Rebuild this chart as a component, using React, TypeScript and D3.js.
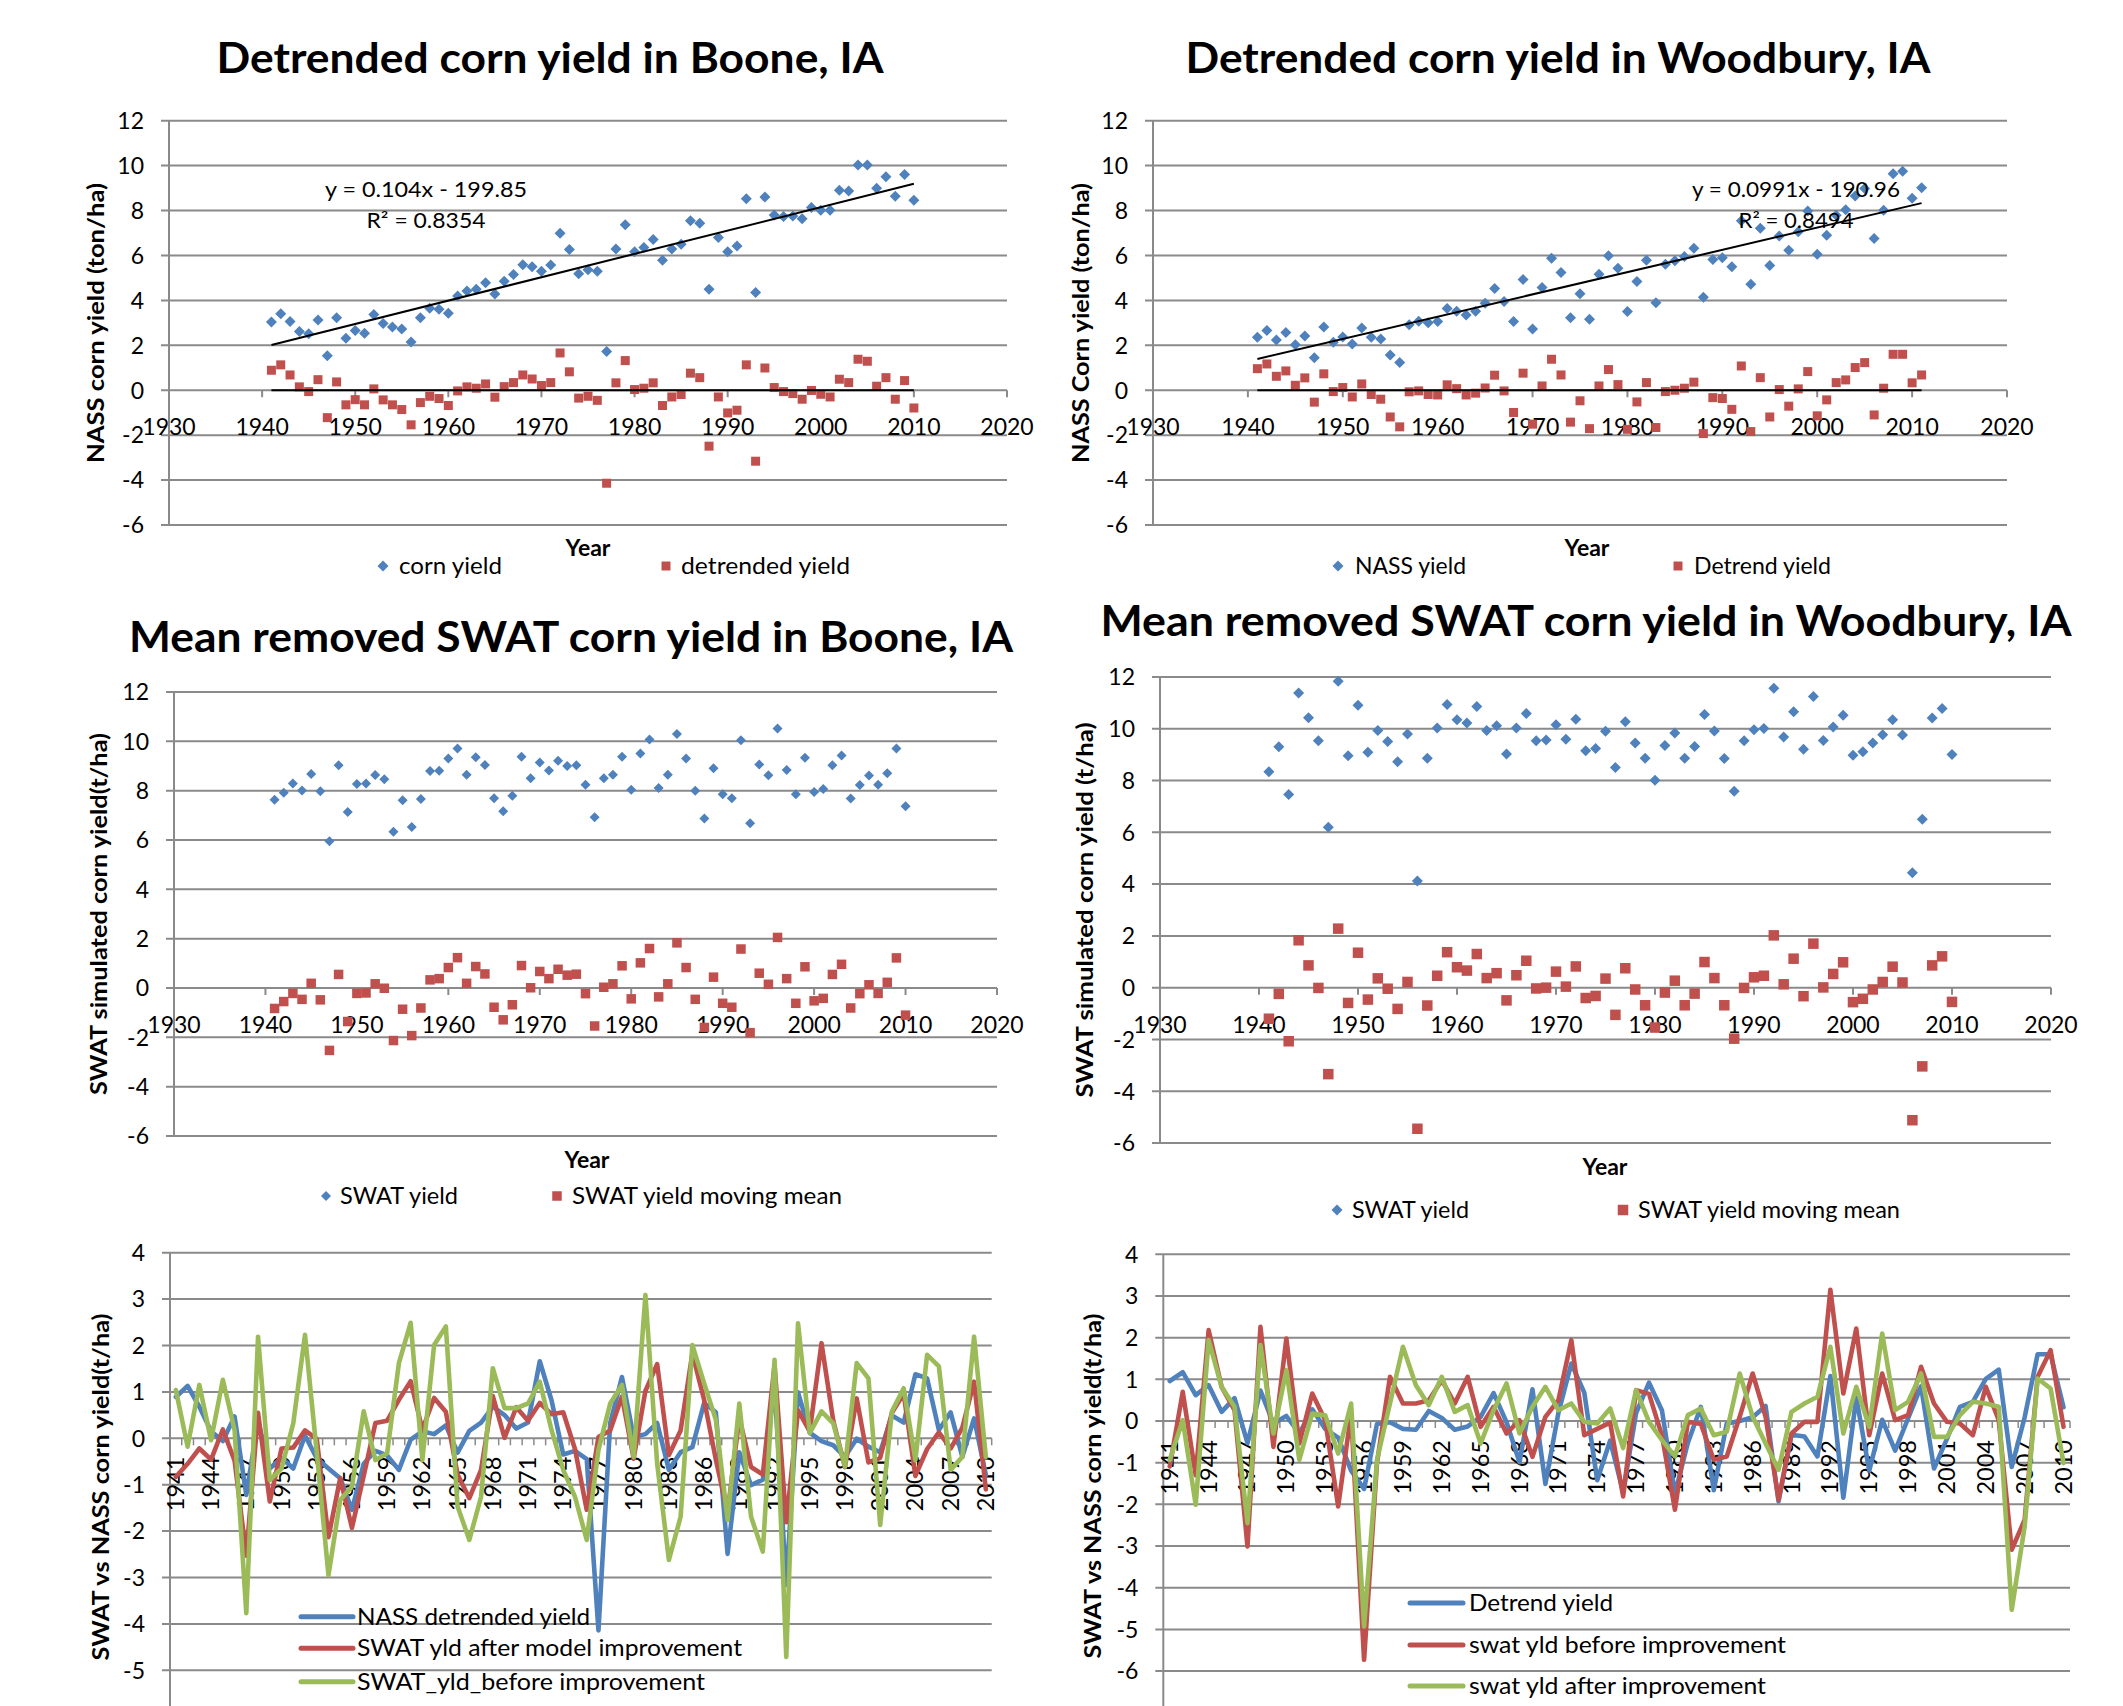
import React from 'react';
import * as d3 from 'd3';

const FONT = 'Lato, "Open Sans", "DejaVu Sans", sans-serif';
const BLUE = '#4F81BD';
const RED = '#C0504D';
const GREEN = '#9BBB59';
const GRID = '#8a8a8a';

// ---- categories ----
const yearsTo2010 = d3.range(1941, 2011);
const yearsTo2011 = d3.range(1941, 2012);
const decadeTicks = d3.range(1930, 2021, 10);
const scatterValueTicks = d3.range(-6, 13, 2);

// ---- Boone NASS (t/ha), 1941-2010 ----
const booneNassYield = [
  3.04, 3.41, 3.06, 2.61, 2.52, 3.13, 1.53, 3.23, 2.31, 2.66,
  2.54, 3.37, 2.97, 2.82, 2.73, 2.15, 3.23, 3.65, 3.61, 3.43,
  4.2, 4.42, 4.5, 4.79, 4.29, 4.85, 5.15, 5.59, 5.5, 5.3,
  5.58, 6.99, 6.27, 5.19, 5.36, 5.3, 1.72, 6.29, 7.37, 6.17,
  6.35, 6.71, 5.79, 6.29, 6.5, 7.55, 7.43, 4.5, 6.8, 6.17,
  6.42, 8.53, 4.35, 8.6, 7.8, 7.73, 7.76, 7.63, 8.13, 8.01,
  8.01, 8.9, 8.87, 10.03, 10.03, 8.99, 9.5, 8.64, 9.6, 8.46,
];
const booneDetrended = [
  0.89, 1.13, 0.68, 0.15, -0.06, 0.47, -1.22, 0.37, -0.65, -0.42,
  -0.65, 0.06, -0.43, -0.65, -0.86, -1.54, -0.55, -0.27, -0.37, -0.68,
  -0.03, 0.15, 0.09, 0.28, -0.31, 0.16, 0.34, 0.68, 0.5, 0.21,
  0.34, 1.66, 0.82, -0.35, -0.27, -0.45, -4.14, 0.33, 1.32, 0.03,
  0.09, 0.33, -0.68, -0.3, -0.19, 0.76, 0.56, -2.49, -0.3, -1.01,
  -0.89, 1.13, -3.16, 0.99, 0.12, -0.06, -0.15, -0.4, -0.01, -0.18,
  -0.3, 0.49, 0.34, 1.38, 1.29, 0.18, 0.56, -0.4, 0.43, -0.79,
];
const booneTrend = { slope: 0.104, intercept: -199.85, r2: '0.8354' };

// ---- Woodbury NASS (t/ha), 1941-2011 ----
const woodburyNassYield = [
  2.36, 2.66, 2.24, 2.57, 2.03, 2.42, 1.45, 2.82, 2.14, 2.37,
  2.06, 2.77, 2.36, 2.28, 1.57, 1.23, 2.91, 3.07, 3.01, 3.06,
  3.64, 3.52, 3.35, 3.52, 3.87, 4.53, 3.95, 3.06, 4.93, 2.73,
  4.57, 5.88, 5.24, 3.23, 4.3, 3.16, 5.16, 5.99, 5.43, 3.5,
  4.84, 5.79, 3.89, 5.61, 5.76, 5.95, 6.32, 4.14, 5.82, 5.9,
  5.5, 7.55, 4.72, 7.21, 5.55, 6.87, 6.23, 7.06, 7.98, 6.05,
  6.9, 7.79, 8.04, 8.65, 8.98, 6.75, 8.01, 9.64, 9.75, 8.55, 9.02,
];
const woodburyDetrend = [
  0.96, 1.17, 0.62, 0.86, 0.22, 0.55, -0.53, 0.73, -0.06, 0.12,
  -0.3, 0.28, -0.19, -0.4, -1.19, -1.63, -0.07, -0.03, -0.19, -0.21,
  0.24, 0.07, -0.21, -0.13, 0.1, 0.67, -0.03, -0.99, 0.76, -1.51,
  0.19, 1.38, 0.68, -1.42, -0.47, -1.71, 0.19, 0.92, 0.25, -1.74,
  -0.52, 0.34, -1.66, -0.06, 0.0, 0.09, 0.36, -1.93, -0.33, -0.37,
  -0.85, 1.08, -1.84, 0.56, -1.19, 0.03, -0.71, 0.06, 0.83, -1.14,
  -0.43, 0.34, 0.46, 1.01, 1.23, -1.1, 0.09, 1.6, 1.6, 0.33, 0.68,
];
const woodburyTrend = { slope: 0.0991, intercept: -190.96, r2: '0.8494' };

// ---- SWAT simulated (t/ha), 1941-2010 ----
const booneSwatYield = [
  7.63, 7.92, 8.29, 8.01, 8.68, 7.98, 5.95, 9.03, 7.14, 8.27,
  8.29, 8.64, 8.46, 6.33, 7.61, 6.53, 7.66, 8.8, 8.81, 9.3,
  9.71, 8.65, 9.35, 9.04, 7.69, 7.17, 7.79, 9.38, 8.5, 9.14,
  8.82, 9.21, 9.0, 9.03, 8.24, 6.92, 8.5, 8.65, 9.38, 8.04,
  9.51, 10.07, 8.11, 8.65, 10.3, 9.3, 8.0, 6.87, 8.91, 7.85,
  7.69, 10.04, 6.68, 9.06, 8.62, 10.52, 8.84, 7.85, 9.33, 7.95,
  8.07, 9.03, 9.43, 7.68, 8.23, 8.61, 8.24, 8.71, 9.71, 7.37,
];
const booneSwatMovingMean = [
  -0.83, -0.55, -0.22, -0.46, 0.19, -0.48, -2.53, 0.55, -1.36, -0.22,
  -0.2, 0.17, -0.01, -2.13, -0.86, -1.93, -0.81, 0.33, 0.38, 0.83,
  1.23, 0.19, 0.87, 0.57, -0.78, -1.29, -0.68, 0.91, 0.01, 0.67,
  0.38, 0.76, 0.52, 0.56, -0.23, -1.54, 0.03, 0.17, 0.9, -0.44,
  1.02, 1.6, -0.36, 0.17, 1.83, 0.83, -0.46, -1.6, 0.44, -0.62,
  -0.78, 1.58, -1.81, 0.6, 0.15, 2.05, 0.38, -0.62, 0.86, -0.52,
  -0.42, 0.55, 0.96, -0.81, -0.23, 0.13, -0.22, 0.23, 1.22, -1.1,
];
const booneSwatBefore = [
  1.04, -0.18, 1.15, -0.04, 1.26, 0.18, -3.77, 2.19, -0.9, -0.65,
  0.32, 2.23, -0.3, -2.95, -1.33, -1.04, 0.58, -0.47, -0.32, 1.62,
  2.49, -0.47, 2.01, 2.41, -1.47, -2.19, -1.26, 1.51, 0.65, 0.65,
  0.75, 1.22, 0.18, -0.68, -1.26, -2.19, -0.25, 0.75, 1.15, -0.4,
  3.09, -0.54, -2.62, -1.69, 2.01, 1.19, 0.4, -1.76, 0.75, -1.69,
  -2.44, 1.69, -4.71, 2.48, 0.11, 0.58, 0.32, -0.61, 1.62, 1.29,
  -1.87, 0.58, 1.08, -0.47, 1.8, 1.55, -0.68, -0.4, 2.19, -0.4,
];

const woodburySwatYield = [
  8.34, 9.31, 7.46, 11.38, 10.43, 9.54, 6.2, 11.84, 8.96, 10.91,
  9.09, 9.93, 9.51, 8.73, 9.8, 4.12, 8.86, 10.03, 10.94, 10.35,
  10.22, 10.86, 9.93, 10.12, 9.03, 10.03, 10.59, 9.54, 9.57, 10.16,
  9.6, 10.37, 9.15, 9.24, 9.9, 8.5, 10.27, 9.45, 8.86, 8.01,
  9.35, 9.84, 8.86, 9.32, 10.55, 9.91, 8.85, 7.59, 9.54, 9.96,
  10.01, 11.57, 9.68, 10.66, 9.21, 11.25, 9.55, 10.07, 10.52, 8.98,
  9.11, 9.45, 9.77, 10.35, 9.76, 4.44, 6.51, 10.42, 10.78, 9.01,
];
const woodburySwatMovingMean = [
  -1.2, -0.24, -2.07, 1.83, 0.86, -0.01, -3.34, 2.28, -0.59, 1.35,
  -0.46, 0.36, -0.04, -0.82, 0.22, -5.45, -0.69, 0.46, 1.37, 0.79,
  0.66, 1.3, 0.37, 0.56, -0.49, 0.48, 1.04, -0.03, 0.0, 0.62,
  0.04, 0.82, -0.4, -0.32, 0.35, -1.05, 0.75, -0.07, -0.68, -1.54,
  -0.19, 0.27, -0.68, -0.23, 0.99, 0.37, -0.68, -1.97, -0.01, 0.4,
  0.46, 2.02, 0.13, 1.12, -0.33, 1.7, 0.01, 0.53, 0.98, -0.56,
  -0.43, -0.07, 0.22, 0.81, 0.2, -5.12, -3.04, 0.86, 1.21, -0.55,
];
const woodburySwatBefore = [
  -1.09, 0.7, -1.3, 2.18, 0.82, 0.26, -3.01, 2.26, -0.62, 1.98,
  -0.54, 0.66, 0.02, -2.05, 0.18, -5.73, -1.0, 1.06, 0.42, 0.42,
  0.5, 0.98, 0.42, 1.06, -0.14, 0.34, -0.3, 0.02, -0.86, 0.1,
  0.5, 1.94, -0.34, -0.19, -0.04, -1.81, 0.74, 0.65, -0.35, -2.13,
  -0.02, -0.07, -0.93, -0.85, 0.1, 1.14, 0.1, -1.89, -0.3, -0.02,
  -0.02, 3.15, 0.66, 2.22, -0.34, 1.14, 0.02, 0.14, 1.3, 0.42,
  -0.02, -0.06, -0.34, 0.82, 0.02, -3.09, -2.37, 1.06, 1.7, -0.14,
];
const woodburySwatAfter = [
  -0.93, 0.02, -2.01, 1.94, 0.82, 0.34, -2.45, 1.82, -0.3, 1.22,
  -0.93, 0.18, 0.14, -0.78, 0.42, -4.93, -0.93, 0.42, 1.78, 0.86,
  0.38, 1.06, 0.22, 0.38, -0.54, 0.26, 0.9, -0.3, 0.34, 0.82,
  0.26, 0.42, -0.02, -0.06, 0.3, -0.65, 0.74, -0.02, -0.46, -0.85,
  0.14, 0.3, -0.34, -0.26, 1.14, 0.1, -0.54, -1.17, 0.22, 0.42,
  0.58, 1.78, -0.3, 0.82, -0.14, 2.1, 0.26, 0.46, 1.14, -0.38,
  -0.38, 0.14, 0.46, 0.42, 0.34, -4.53, -2.53, 1.02, 0.78, -1.01,
];

const diamondPath = (r: number) => `M0,${-r}L${r},0L0,${r}L${-r},0Z`;
const fmtTrend = (t: { slope: number; intercept: number }) =>
  `y = ${t.slope}x - ${Math.abs(t.intercept).toFixed(2)}`;

type Legend = { marker: 'diamond' | 'square'; mx: number; tx: number; len: number; text: string };

type ScatterCfg = {
  x0: number; x1: number; yTop: number; yBottom: number;
  title: { text: string; cx: number; y: number; len: number };
  yTitle: { text: string; x: number; cy: number; len: number };
  xLabelY: number;
  blueYears: number[]; blue: number[]; diamondR: number;
  redYears: number[]; red: number[]; square: number;
  trend?: { slope: number; intercept: number; r2: string; from: number; to: number; cx: number; y1: number; y2: number; len1: number; len2: number };
  yearLabel: { x: number; y: number };
  legendY: number;
  legend: Legend[];
};

function ScatterPanel({ cfg }: { cfg: ScatterCfg }) {
  const x = d3.scaleLinear().domain([1930, 2020]).range([cfg.x0, cfg.x1]);
  const y = d3.scaleLinear().domain([-6, 12]).range([cfg.yBottom, cfg.yTop]);
  const y0 = y(0);
  const t = cfg.trend;
  return (
    <g>
      <text x={cfg.title.cx} y={cfg.title.y} textAnchor="middle" fontWeight="bold" fontSize={42}
        textLength={cfg.title.len} lengthAdjust="spacingAndGlyphs">{cfg.title.text}</text>
      {scatterValueTicks.map((v) => (
        <g key={v}>
          <line x1={cfg.x0 - 8} x2={cfg.x1} y1={y(v)} y2={y(v)} stroke={GRID} strokeWidth={2} />
          <text x={cfg.x0 - 25} y={y(v)} dy="0.36em" textAnchor="end" fontSize={23}>{v}</text>
        </g>
      ))}
      <line x1={cfg.x0} x2={cfg.x0} y1={cfg.yTop} y2={cfg.yBottom} stroke={GRID} strokeWidth={2} />
      {decadeTicks.map((d) => (
        <g key={d}>
          <line x1={x(d)} x2={x(d)} y1={y0} y2={y0 + 7} stroke={GRID} strokeWidth={2} />
          <text x={x(d)} y={cfg.xLabelY} textAnchor="middle" fontSize={23}>{d}</text>
        </g>
      ))}
      <text transform={`translate(${cfg.yTitle.x},${cfg.yTitle.cy}) rotate(-90)`} dy="0.36em"
        textAnchor="middle" fontWeight="bold" fontSize={23}
        textLength={cfg.yTitle.len} lengthAdjust="spacingAndGlyphs">{cfg.yTitle.text}</text>
      {cfg.blueYears.map((yr, i) => (
        <path key={'b' + yr} d={diamondPath(cfg.diamondR)} transform={`translate(${x(yr)},${y(cfg.blue[i])})`} fill={BLUE} />
      ))}
      {cfg.redYears.map((yr, i) => (
        <rect key={'r' + yr} x={x(yr) - cfg.square / 2} y={y(cfg.red[i]) - cfg.square / 2}
          width={cfg.square} height={cfg.square} fill={RED} />
      ))}
      {t && (
        <g>
          <line x1={x(t.from)} x2={x(t.to)} y1={y(t.slope * t.from + t.intercept)} y2={y(t.slope * t.to + t.intercept)}
            stroke="#000" strokeWidth={2} />
          <line x1={x(t.from)} x2={x(t.to)} y1={y0} y2={y0} stroke="#000" strokeWidth={2} />
          <text x={t.cx} y={t.y1} textAnchor="middle" fontSize={21} textLength={t.len1} lengthAdjust="spacingAndGlyphs">{fmtTrend(t)}</text>
          <text x={t.cx} y={t.y2} textAnchor="middle" fontSize={21} textLength={t.len2} lengthAdjust="spacingAndGlyphs">{`R\u00B2 = ${t.r2}`}</text>
        </g>
      )}
      <text x={cfg.yearLabel.x} y={cfg.yearLabel.y} textAnchor="middle" fontWeight="bold" fontSize={23}>Year</text>
      {cfg.legend.map((l) => (
        <g key={l.text}>
          {l.marker === 'diamond' ? (
            <path d={diamondPath(cfg.diamondR)} transform={`translate(${l.mx},${cfg.legendY})`} fill={BLUE} />
          ) : (
            <rect x={l.mx - cfg.square / 2} y={cfg.legendY - cfg.square / 2} width={cfg.square} height={cfg.square} fill={RED} />
          )}
          <text x={l.tx} y={cfg.legendY + 8} fontSize={23.5} textLength={l.len} lengthAdjust="spacingAndGlyphs">{l.text}</text>
        </g>
      ))}
    </g>
  );
}

type LineCfg = {
  x0: number; x1: number; zeroY: number; fourY: number; minTick: number; labelTop: number;
  yTitle: { x: number; cy: number; len: number };
  series: { values: number[]; color: string; name: string; len: number }[];
  legend: { lx0: number; lx1: number; tx: number; rows: number[] };
};

function LinePanel({ cfg }: { cfg: LineCfg }) {
  const x = d3.scaleBand<number>().domain(yearsTo2010).range([cfg.x0, cfg.x1]);
  const cx = (yr: number) => (x(yr) as number) + x.bandwidth() / 2;
  const y = d3.scaleLinear().domain([0, 4]).range([cfg.zeroY, cfg.fourY]);
  const ticks = d3.range(cfg.minTick, 5);
  const line = d3.line<number>().x((_, i) => cx(yearsTo2010[i])).y((v) => y(v));
  return (
    <g>
      {ticks.map((v) => (
        <g key={v}>
          <line x1={cfg.x0 - 8} x2={cfg.x1} y1={y(v)} y2={y(v)} stroke={GRID} strokeWidth={2} />
          <text x={cfg.x0 - 25} y={y(v)} dy="0.36em" textAnchor="end" fontSize={23}>{v}</text>
        </g>
      ))}
      <line x1={cfg.x0} x2={cfg.x0} y1={cfg.fourY} y2={1706} stroke={GRID} strokeWidth={2} />
      {d3.range(0, yearsTo2010.length + 1).map((i) => {
        const xx = cfg.x0 + i * x.bandwidth();
        return <line key={i} x1={xx} x2={xx} y1={cfg.zeroY} y2={cfg.zeroY + 7} stroke={GRID} strokeWidth={1.5} />;
      })}
      {yearsTo2010.filter((_, i) => i % 3 === 0).map((yr) => (
        <text key={yr} transform={`translate(${cx(yr) + 8},${cfg.labelTop}) rotate(-90)`} textAnchor="end" fontSize={23.5}>{yr}</text>
      ))}
      <text transform={`translate(${cfg.yTitle.x},${cfg.yTitle.cy}) rotate(-90)`} dy="0.36em"
        textAnchor="middle" fontWeight="bold" fontSize={23}
        textLength={cfg.yTitle.len} lengthAdjust="spacingAndGlyphs">SWAT vs NASS corn yield(t/ha)</text>
      {cfg.series.map((s) => (
        <path key={s.name} d={line(s.values) as string} fill="none" stroke={s.color} strokeWidth={4.6}
          strokeLinejoin="round" strokeLinecap="round" />
      ))}
      {cfg.series.map((s, i) => (
        <g key={'lg' + s.name}>
          <line x1={cfg.legend.lx0} x2={cfg.legend.lx1} y1={cfg.legend.rows[i]} y2={cfg.legend.rows[i]}
            stroke={s.color} strokeWidth={5} strokeLinecap="round" />
          <text x={cfg.legend.tx} y={cfg.legend.rows[i] + 8} fontSize={24} textLength={s.len} lengthAdjust="spacingAndGlyphs">{s.name}</text>
        </g>
      ))}
    </g>
  );
}

const booneNassCfg: ScatterCfg = {
  x0: 169, x1: 1007, yTop: 120.7, yBottom: 525,
  title: { text: 'Detrended corn yield in Boone, IA', cx: 550, y: 73, len: 667 },
  yTitle: { text: 'NASS corn yield (ton/ha)', x: 96, cy: 323, len: 280 },
  xLabelY: 435,
  blueYears: yearsTo2010, blue: booneNassYield, diamondR: 5.5,
  redYears: yearsTo2010, red: booneDetrended, square: 9,
  trend: { ...booneTrend, from: 1941, to: 2010, cx: 426, y1: 197, y2: 228, len1: 202, len2: 119 },
  yearLabel: { x: 588, y: 556 },
  legendY: 566,
  legend: [
    { marker: 'diamond', mx: 383, tx: 399, len: 103, text: 'corn yield' },
    { marker: 'square', mx: 666, tx: 681, len: 169, text: 'detrended yield' },
  ],
};

const woodburyNassCfg: ScatterCfg = {
  x0: 1153, x1: 2007, yTop: 120.7, yBottom: 525,
  title: { text: 'Detrended corn yield in Woodbury, IA', cx: 1558, y: 73, len: 745 },
  yTitle: { text: 'NASS Corn yield (ton/ha)', x: 1081, cy: 323, len: 280 },
  xLabelY: 435,
  blueYears: yearsTo2011, blue: woodburyNassYield, diamondR: 5.5,
  redYears: yearsTo2011, red: woodburyDetrend, square: 9,
  trend: { ...woodburyTrend, from: 1941, to: 2011, cx: 1796, y1: 197, y2: 228, len1: 208, len2: 115 },
  yearLabel: { x: 1587, y: 556 },
  legendY: 566,
  legend: [
    { marker: 'diamond', mx: 1338, tx: 1355, len: 111, text: 'NASS yield' },
    { marker: 'square', mx: 1678, tx: 1694, len: 137, text: 'Detrend yield' },
  ],
};

const booneSwatCfg: ScatterCfg = {
  x0: 174, x1: 997, yTop: 692, yBottom: 1136,
  title: { text: 'Mean removed SWAT corn yield in Boone, IA', cx: 571, y: 652, len: 884 },
  yTitle: { text: 'SWAT simulated corn yield(t/ha)', x: 99, cy: 914, len: 362 },
  xLabelY: 1033,
  blueYears: yearsTo2010, blue: booneSwatYield, diamondR: 5,
  redYears: yearsTo2010, red: booneSwatMovingMean, square: 9.5,
  yearLabel: { x: 587, y: 1168 },
  legendY: 1196,
  legend: [
    { marker: 'diamond', mx: 326, tx: 340, len: 118, text: 'SWAT yield' },
    { marker: 'square', mx: 557, tx: 572, len: 270, text: 'SWAT yield moving mean' },
  ],
};

const woodburySwatCfg: ScatterCfg = {
  x0: 1160, x1: 2051, yTop: 677, yBottom: 1143,
  title: { text: 'Mean removed SWAT corn yield in Woodbury, IA', cx: 1586, y: 636, len: 971 },
  yTitle: { text: 'SWAT simulated corn yield (t/ha)', x: 1085, cy: 910, len: 375 },
  xLabelY: 1033,
  blueYears: yearsTo2010, blue: woodburySwatYield, diamondR: 5.5,
  redYears: yearsTo2010, red: woodburySwatMovingMean, square: 10.5,
  yearLabel: { x: 1605, y: 1175 },
  legendY: 1210,
  legend: [
    { marker: 'diamond', mx: 1337, tx: 1352, len: 117, text: 'SWAT yield' },
    { marker: 'square', mx: 1623, tx: 1638, len: 262, text: 'SWAT yield moving mean' },
  ],
};

const booneLineCfg: LineCfg = {
  x0: 170, x1: 991.7, zeroY: 1438.3, fourY: 1252.7, minTick: -5, labelTop: 1456.7,
  yTitle: { x: 101, cy: 1487, len: 347 },
  series: [
    { values: booneDetrended, color: BLUE, name: 'NASS detrended yield', len: 233 },
    { values: booneSwatMovingMean, color: RED, name: 'SWAT yld after model improvement', len: 385 },
    { values: booneSwatBefore, color: GREEN, name: 'SWAT_yld_before improvement', len: 348 },
  ],
  legend: { lx0: 301, lx1: 353, tx: 357, rows: [1616.7, 1648.3, 1681.7] },
};

const woodburyLineCfg: LineCfg = {
  x0: 1163.3, x1: 2070, zeroY: 1421, fourY: 1254.3, minTick: -6, labelTop: 1440,
  yTitle: { x: 1093, cy: 1486, len: 345 },
  series: [
    { values: woodburyDetrend.slice(0, yearsTo2010.length), color: BLUE, name: 'Detrend yield', len: 144 },
    { values: woodburySwatBefore, color: RED, name: 'swat yld before improvement', len: 317 },
    { values: woodburySwatAfter, color: GREEN, name: 'swat yld after improvement', len: 297 },
  ],
  legend: { lx0: 1410, lx1: 1463, tx: 1469, rows: [1603, 1645, 1686] },
};

export default function App() {
  return (
    <svg width={2123} height={1706} style={{ position: 'absolute', left: 0, top: 0 }}
      fontFamily={FONT} fill="#000">
      <rect x={0} y={0} width={2123} height={1706} fill="#fff" />
      <ScatterPanel cfg={booneNassCfg} />
      <ScatterPanel cfg={woodburyNassCfg} />
      <ScatterPanel cfg={booneSwatCfg} />
      <ScatterPanel cfg={woodburySwatCfg} />
      <LinePanel cfg={booneLineCfg} />
      <LinePanel cfg={woodburyLineCfg} />
    </svg>
  );
}
